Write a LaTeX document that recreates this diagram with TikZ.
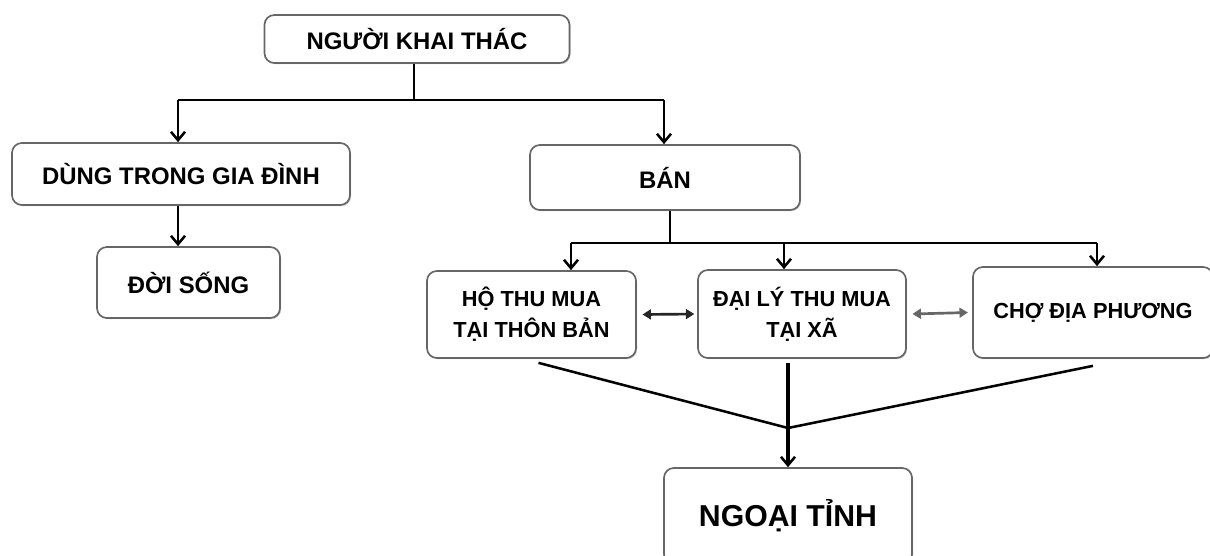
\documentclass[tikz,border=0pt]{standalone}
\usepackage{fontspec}
\setmainfont{Liberation Sans}
\usetikzlibrary{arrows.meta,calc,shadows}
\tikzset{
  box/.style={draw=black!60, line width=1.2pt, rounded corners=7pt, fill=white,
    align=center, inner sep=0pt, font=\bfseries,
    drop shadow={shadow xshift=0.8pt, shadow yshift=-0.8pt, opacity=0.35, fill=black!60}},
  conn/.style={draw=black, line width=2.1pt},
  arr/.style={conn, -{Straight Barb[length=6pt,width=10pt,line width=1.8pt]}},
  dbl/.style={draw=black!85, line width=1.9pt, {Triangle[length=6pt,width=7pt]}-{Triangle[length=6pt,width=7pt]}},
  dblg/.style={dbl, draw=black!60},
  big/.style={font=\bfseries\fontsize{17}{20}\selectfont},
  mid/.style={font=\bfseries\fontsize{15.5}{22}\selectfont},
  huge/.style={font=\bfseries\fontsize{21.5}{24}\selectfont}
}
\begin{document}
\begin{tikzpicture}[x=0.025cm,y=-0.025cm]
\useasboundingbox (0,0) rectangle (1210,555);
\clip (0,0) rectangle (1210,555);
\fill[white] (0,0) rectangle (1210,555);
% nodes
\node[box,big,minimum width=305*0.025cm,minimum height=48*0.025cm] (top) at (417,39) {NGƯỜI KHAI THÁC};
\node[box,big,minimum width=338*0.025cm,minimum height=62*0.025cm] (dung) at (181,174) {DÙNG TRONG GIA ĐÌNH};
\node[box,big,minimum width=183*0.025cm,minimum height=71*0.025cm] (doi) at (188.5,282.5) {ĐỜI SỐNG};
\node[box,big,minimum width=270*0.025cm,minimum height=65*0.025cm] (ban) at (665,177.5) {BÁN};
\node[box,mid,minimum width=209*0.025cm,minimum height=87*0.025cm] (ho) at (531.5,314.5) {HỘ THU MUA\\TẠI THÔN BẢN};
\node[box,mid,minimum width=208*0.025cm,minimum height=88*0.025cm] (daily) at (802,314) {ĐẠI LÝ THU MUA\\TẠI XÃ};
\node[box,mid,minimum width=240*0.025cm,minimum height=91*0.025cm] (cho) at (1093,312.5) {CHỢ ĐỊA PHƯƠNG};
\node[box,huge,minimum width=248*0.025cm,minimum height=96*0.025cm] (ngoai) at (788,516) {NGOẠI TỈNH};
% junctions
\coordinate (j1) at (414,100);
\coordinate (l1) at (178,100);
\coordinate (r1) at (664,100);
\coordinate (j2) at (670,243);
\coordinate (l2) at (571,243);
\coordinate (c2) at (784,243);
\coordinate (r2) at (1097,243);
\coordinate (m) at (788,428);
% connectors
\draw[conn] (top.south -| j1) -- (j1);
\draw[conn] (l1) -- (r1);
\draw[arr] (l1) -- (l1 |- dung.north);
\draw[arr] (r1) -- (r1 |- ban.north);
\draw[arr] (dung.south -| l1) -- (l1 |- doi.north);
\draw[conn] (ban.south -| j2) -- (j2);
\draw[conn] (l2) -- (r2);
\draw[arr] (l2) -- (l2 |- ho.north);
\draw[arr] (c2) -- (c2 |- daily.north);
\draw[arr] (r2) -- (r2 |- cho.north);
\draw[dbl] ([xshift=4pt]ho.east) -- ([xshift=-2pt]daily.west);
\draw[dblg] ([xshift=4pt]daily.east) -- ([xshift=-3pt]cho.west);
\draw[conn, line width=1.8pt] ([shift={(7,4)}]ho.south) -- (m);
\draw[conn, line width=1.8pt] ([shift={(0,7)}]cho.south) -- (m);
\draw[arr, line width=2.4pt] ([yshift=-3pt]daily.south -| m) -- (ngoai.north -| m);
\end{tikzpicture}
\end{document}
